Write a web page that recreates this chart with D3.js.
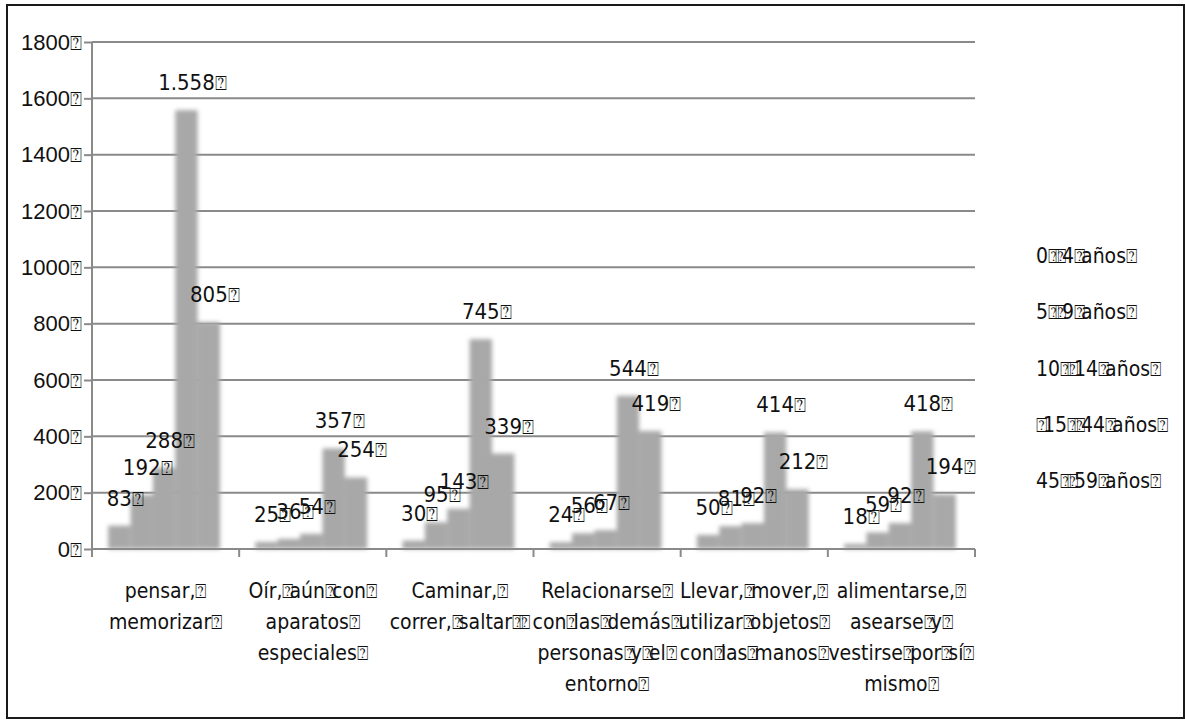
<!DOCTYPE html>
<html lang="es">
<head>
<meta charset="utf-8">
<script src="https://cdn.jsdelivr.net/npm/d3@7"></script>
<style>
  body { margin: 0; background: white; }
  svg { font-family: 'Liberation Sans Narrow', 'DejaVu Sans Condensed', 'Liberation Sans', sans-serif; }
  .grid line { stroke: #8a8a8a; stroke-width: 2px; }
  .axis path, .axis line { stroke: #8a8a8a; stroke-width: 2px; fill: none; }
  .axis text { font-size: 22px; fill: #111; }
  .bar { fill: #a8a8a8; }
  .val { font-size: 22px; fill: #111; }
  .cat { font-size: 21px; fill: #111; }
  .leg { font-size: 21px; fill: #111; }
  .bx { font-size: 0.9em; }
</style>
</head>
<body>
<svg width="1185" height="720"></svg>
<script>
// missing-glyph box, like the source export shows it
var B = "\u2370";

var categories = ["pensar", "oir", "caminar", "relacionarse", "llevar", "alimentarse"];
var categoryLines = [
  ["pensar," + B, "memorizar" + B],
  ["Oír," + B + "aún" + B + "con" + B, "aparatos" + B, "especiales" + B],
  ["Caminar," + B, "correr," + B + "saltar" + B + B],
  ["Relacionarse" + B, "con" + B + "las" + B + "demás" + B, "personas" + B + "y" + B + "el" + B, "entorno" + B],
  ["Llevar," + B + "mover," + B, "utilizar" + B + "objetos" + B, "con" + B + "las" + B + "manos" + B],
  ["alimentarse," + B, "asearse" + B + "y" + B, "vestirse" + B + "por" + B + "sí" + B, "mismo" + B]
];
var series = ["0" + B + B + "4" + B + "años" + B,
              "5" + B + B + "9" + B + "años" + B,
              "10" + B + B + "14" + B + "años" + B,
              B + "15" + B + B + "44" + B + "años" + B,
              "45" + B + B + "59" + B + "años" + B];

var s0_4   = [83, 25, 30, 24, 50, 18];
var s5_9   = [192, 36, 95, 56, 81, 59];
var s10_14 = [288, 54, 143, 67, 92, 92];
var s15_44 = [1558, 357, 745, 544, 414, 418];
var s45_59 = [805, 254, 339, 419, 212, 194];
var values = [s0_4, s5_9, s10_14, s15_44, s45_59];

var yTicks = [0, 200, 400, 600, 800, 1000, 1200, 1400, 1600, 1800];

var svg = d3.select("svg");
var mLeft = 92, mRight = 975, mTop = 42, mBottom = 549;

var fmt = d3.formatLocale({decimal: ",", thousands: ".", grouping: [3], currency: ["", ""]}).format(",d");

// writes a string into a text node, the boxes overlapping the next glyph
function boxText(t, str) {
  t.text(null);
  var parts = str.split(B);
  parts.forEach(function (p, i) {
    if (p) {
      var s = t.append("tspan").text(p);
      if (i > 0) s.attr("dx", -4);
    }
    if (i < parts.length - 1) {
      var b = t.append("tspan").attr("class", "bx").text(B);
      if (i > 0 && !p) b.attr("dx", -4);
    }
  });
}

var y = d3.scaleLinear().domain([0, 1800]).range([mBottom, mTop]);
var x = d3.scaleBand().domain(categories).range([mLeft, mRight]).padding(0);
var bw = x.bandwidth();
var xs = d3.scaleBand().domain(d3.range(series.length)).range([bw * 0.11, bw * 0.87]).padding(0);

var defs = svg.append("defs");
defs.append("filter").attr("id", "soft").attr("x", "-20%").attr("y", "-5%").attr("width", "140%").attr("height", "110%")
  .append("feGaussianBlur").attr("stdDeviation", 2.2);

// frame
svg.append("rect").attr("x", 7).attr("y", 5).attr("width", 1177).attr("height", 713)
  .attr("fill", "none").attr("stroke", "#1a1a1a").attr("stroke-width", 2);

// grid
svg.append("g").attr("class", "grid")
  .selectAll("line").data(yTicks.slice(1)).join("line")
  .attr("x1", mLeft).attr("x2", mRight)
  .attr("y1", d => y(d)).attr("y2", d => y(d));

// bars
var bars = svg.append("g").attr("filter", "url(#soft)");
categories.forEach(function (c, ci) {
  values.forEach(function (arr, si) {
    bars.append("rect").attr("class", "bar")
      .attr("x", x(c) + xs(si))
      .attr("y", y(arr[ci]))
      .attr("width", xs.bandwidth())
      .attr("height", y(0) - y(arr[ci]));
  });
});

// y axis
var yAxis = d3.axisLeft(y).tickValues(yTicks).tickSize(8).tickPadding(2)
  .tickFormat(d => d + B);
svg.append("g").attr("class", "axis").attr("transform", "translate(" + mLeft + ",0)").call(yAxis)
  .call(g => g.select(".domain").attr("d", "M0," + mTop + "V" + mBottom))
  .call(g => g.selectAll(".tick text").each(function (d) { boxText(d3.select(this), d + B); }));

// x axis
var xg = svg.append("g").attr("class", "axis");
xg.append("line").attr("x1", mLeft).attr("x2", mRight).attr("y1", mBottom).attr("y2", mBottom);
xg.selectAll(".tk").data(categories.map(c => x(c)).concat([mRight])).join("line")
  .attr("x1", d => d).attr("x2", d => d).attr("y1", mBottom).attr("y2", mBottom + 8);

// value labels
var vl = svg.append("g");
categories.forEach(function (c, ci) {
  values.forEach(function (arr, si) {
    var t = vl.append("text").attr("class", "val")
      .attr("x", x(c) + xs(si) + xs.bandwidth() / 2 + 6)
      .attr("y", y(arr[ci]) - 20)
      .attr("text-anchor", "middle");
    boxText(t, fmt(arr[ci]) + B);
  });
});

// category labels
categories.forEach(function (c, ci) {
  var t = svg.append("text").attr("class", "cat").attr("text-anchor", "middle");
  categoryLines[ci].forEach(function (ln, li) {
    var row = t.append("tspan").attr("x", x(c) + bw / 2).attr("y", 598 + li * 31);
    var parts = ln.split(B);
    parts.forEach(function (p, i) {
      if (p) row.append("tspan").attr("dx", i > 0 ? -4 : null).text(p);
      if (i < parts.length - 1) row.append("tspan").attr("class", "bx").attr("dx", i > 0 && !p ? -4 : null).text(B);
    });
  });
});

// legend
svg.append("g").selectAll("text").data(series).join("text").attr("class", "leg")
  .attr("x", 1036).attr("y", (d, i) => 263 + i * 56.3)
  .each(function (d) { boxText(d3.select(this), d); });
</script>
</body>
</html>
